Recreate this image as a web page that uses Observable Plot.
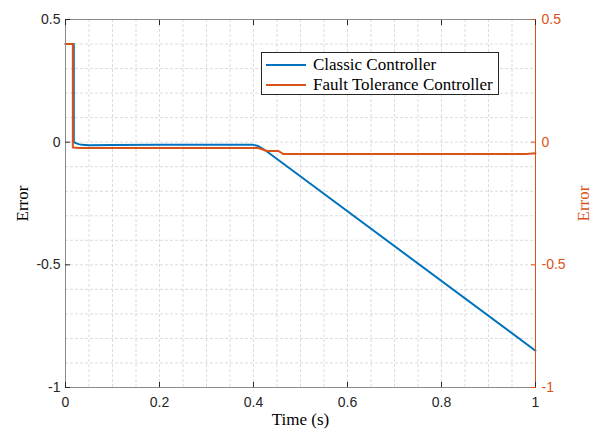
<!DOCTYPE html>
<html><head><meta charset="utf-8">
<script src="https://cdn.jsdelivr.net/npm/d3@7"></script>
<script src="https://cdn.jsdelivr.net/npm/@observablehq/plot@0.6"></script>
<style>
body{margin:0;background:#fff;}
#wrap{position:relative;width:597px;height:434px;}
#legend{position:absolute;left:261px;top:52px;width:238px;height:43px;border:1px solid #262626;background:#fff;box-sizing:border-box;font-family:"Liberation Serif","Times New Roman",serif;font-size:17px;color:#000;}
#legend .row{position:absolute;left:0;height:20px;display:flex;align-items:center;white-space:nowrap;}
#legend .sw{display:inline-block;width:40px;height:2px;margin-left:4px;margin-right:7px;}
</style>
</head><body>
<div id="wrap"><div id="chart"></div><div id="legend"></div></div>
<script>
const seriesNames = ["Classic Controller", "Fault Tolerance Controller"];
const seriesColors = ["#0072BD", "#D95319"];

const classicTime = [0, 0.0177, 0.0177, 0.022, 0.028, 0.035, 0.05, 0.1, 0.2, 0.3, 0.4, 0.41, 0.42, 0.43, 1.0];
const classicError = [0.4, 0.4, 0.0, -0.004, -0.008, -0.011, -0.013, -0.012, -0.011, -0.011, -0.011, -0.016, -0.027, -0.04, -0.85];

const faultTime = [0, 0.0156, 0.0156, 0.03, 0.2, 0.41, 0.42, 0.428, 0.453, 0.463, 0.98, 1.0];
const faultError = [0.4, 0.4, -0.022, -0.024, -0.024, -0.024, -0.03, -0.036, -0.036, -0.048, -0.048, -0.045];

const xTicks = [0, 0.2, 0.4, 0.6, 0.8, 1];
const yTicks = [-1, -0.5, 0, 0.5];
const xGrid = [0.05,0.1,0.15,0.2,0.25,0.3,0.35,0.4,0.45,0.5,0.55,0.6,0.65,0.7,0.75,0.8,0.85,0.9,0.95];
const yGrid = [-0.9,-0.8,-0.7,-0.6,-0.5,-0.4,-0.3,-0.2,-0.1,0,0.1,0.2,0.3,0.4];

const classic = classicTime.map((t, i) => ({t, e: classicError[i]}));
const fault = faultTime.map((t, i) => ({t, e: faultError[i]}));

const axisColor = "#262626";
const frameColor = "#8a8a8a";
const sans = "'Liberation Sans', Arial, sans-serif";
const serif = "'Liberation Serif', 'Times New Roman', serif";
const fmt = d => String(d);

const chart = Plot.plot({
  width: 597, height: 434,
  marginLeft: 65, marginRight: 62, marginTop: 19, marginBottom: 47,
  style: {background: "#fff", overflow: "visible"},
  x: {domain: [0, 1]},
  y: {domain: [-1, 0.5]},
  marks: [
    Plot.ruleX(xGrid, {stroke: "#dcdcdc", strokeDasharray: "3,2"}),
    Plot.ruleY(yGrid, {stroke: "#dcdcdc", strokeDasharray: "3,2"}),
    Plot.line(classic, {x: "t", y: "e", stroke: seriesColors[0], strokeWidth: 2}),
    Plot.line(fault, {x: "t", y: "e", stroke: seriesColors[1], strokeWidth: 2}),
    Plot.ruleY([0.5], {stroke: frameColor}),
    Plot.ruleY([-1], {stroke: frameColor}),
    Plot.ruleX([0], {stroke: frameColor}),
    Plot.ruleX([1], {stroke: seriesColors[1]}),
    Plot.axisX({anchor: "bottom", ticks: xTicks, tickSize: -5, tickPadding: 15, tickFormat: fmt, label: null,
      stroke: axisColor, fill: axisColor, fontSize: 14, fontFamily: sans}),
    Plot.axisX({anchor: "top", ticks: xTicks, tickSize: -5, tickFormat: () => "", label: null, stroke: axisColor}),
    Plot.axisY({anchor: "left", ticks: yTicks, tickSize: -5, tickPadding: 10, tickFormat: fmt, label: null,
      stroke: axisColor, fill: axisColor, fontSize: 14, fontFamily: sans}),
    Plot.axisY({anchor: "right", ticks: yTicks, tickSize: -5, tickPadding: 11, tickFormat: fmt, label: null,
      stroke: seriesColors[1], fill: seriesColors[1], fontSize: 14, fontFamily: sans}),
    Plot.text(["Time (s)"], {frameAnchor: "bottom", dy: 37, textAnchor: "middle", fill: "#000", fontSize: 17, fontFamily: serif}),
    Plot.text(["Error"], {frameAnchor: "left", dx: -43, rotate: -90, textAnchor: "middle", fill: "#000", fontSize: 17, fontFamily: serif}),
    Plot.text(["Error"], {frameAnchor: "right", dx: 48, rotate: -90, textAnchor: "middle", fill: seriesColors[1], fontSize: 17, fontFamily: serif})
  ]
});
document.getElementById("chart").appendChild(chart);

const legend = document.getElementById("legend");
seriesNames.forEach((name, i) => {
  const row = document.createElement("div");
  row.className = "row";
  row.style.top = (2 + i * 20) + "px";
  const sw = document.createElement("span");
  sw.className = "sw";
  sw.style.background = seriesColors[i];
  const tx = document.createElement("span");
  tx.textContent = name;
  row.appendChild(sw); row.appendChild(tx);
  legend.appendChild(row);
});
</script>
</body></html>
